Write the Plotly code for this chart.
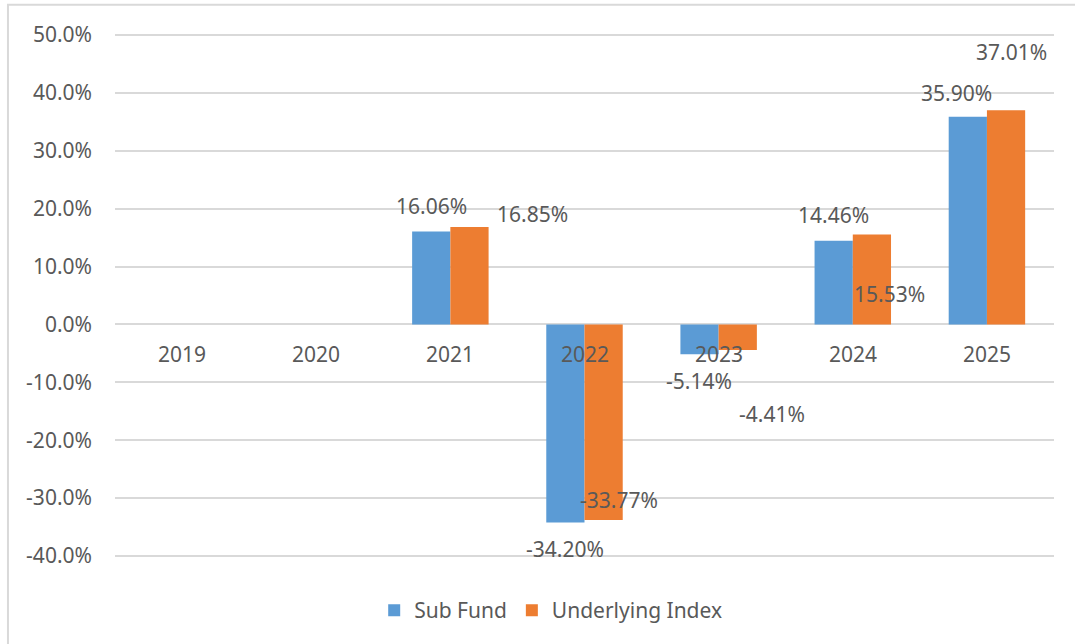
import plotly.graph_objects as go

years = ["2019", "2020", "2021", "2022", "2023", "2024", "2025"]
sub_fund = [None, None, 0.1606, -0.3420, -0.0514, 0.1446, 0.3590]
underlying_index = [None, None, 0.1685, -0.3377, -0.0441, 0.1553, 0.3701]
y_ticks = [-0.4, -0.3, -0.2, -0.1, 0.0, 0.1, 0.2, 0.3, 0.4, 0.5]
y_tick_text = ["-40.0%", "-30.0%", "-20.0%", "-10.0%", "0.0%",
               "10.0%", "20.0%", "30.0%", "40.0%", "50.0%"]

BLUE = "#5B9BD5"
ORANGE = "#ED7D31"
TXT = "#595959"
FONT = "Noto Sans"
FS = 21

# label pixel offsets (dx, dy down-positive) from the bar end, per series
sub_off = [None, None, (0, -25), (0, 27), (0, 27), (0, -26), (-11, -24)]
idx_off = [None, None, (63, -13), (15, -20), (34, 64), (18, 59), (5, -58)]

fig = go.Figure()
fig.add_trace(go.Bar(name="Sub Fund", x=years, y=sub_fund, marker_color=BLUE,
                     marker_line_width=0))
fig.add_trace(go.Bar(name="Underlying Index", x=years, y=underlying_index,
                     marker_color=ORANGE, marker_line_width=0))

bar_half = 19.2
annotations = []
for series, offs, side in ((sub_fund, sub_off, -1), (underlying_index, idx_off, 1)):
    for i, (v, off) in enumerate(zip(series, offs)):
        if v is None:
            continue
        dx, dy = off
        annotations.append(dict(x=i, y=v, xref="x", yref="y", text=f"{v*100:.2f}%",
                                showarrow=False, xanchor="center", yanchor="middle",
                                xshift=side * bar_half + dx, yshift=-dy,
                                font=dict(family=FONT, size=FS, color=TXT)))
for i, yr in enumerate(years):
    annotations.append(dict(x=i, y=0, xref="x", yref="y", text=yr, showarrow=False,
                            xanchor="center", yanchor="middle", yshift=-30,
                            font=dict(family=FONT, size=FS, color=TXT)))

fig.update_layout(
    width=1075, height=644,
    margin=dict(l=115, r=21, t=33, b=86),
    paper_bgcolor="white", plot_bgcolor="white",
    barmode="group", bargap=0.43, bargroupgap=0,
    font=dict(family=FONT, size=FS, color=TXT),
    showlegend=True,
    legend=dict(orientation="h", x=0.464, xanchor="center", y=-0.1, yanchor="middle",
                font=dict(family=FONT, size=FS, color=TXT), itemwidth=30,
                traceorder="normal"),
    annotations=annotations,
    shapes=[dict(type="rect", xref="paper", yref="paper", x0=-0.114, x1=1.2,
                 y0=-0.4, y1=1.054, line=dict(color="#D9D9D9", width=2),
                 fillcolor="rgba(0,0,0,0)", layer="below")],
)
fig.update_xaxes(type="category", categoryorder="array", categoryarray=years,
                 range=[-0.5, len(years) - 0.5], autorange=False,
                 showticklabels=False, showgrid=False, zeroline=False, showline=False,
                 ticks="")
fig.update_yaxes(range=[-0.4035, 0.5035], autorange=False, tickvals=y_ticks,
                 ticktext=y_tick_text,
                 showgrid=True, gridcolor="#D9D9D9", gridwidth=1.5,
                 zeroline=True, zerolinecolor="#D9D9D9", zerolinewidth=1.5,
                 showline=False, ticks="", ticklabelstandoff=22,
                 tickfont=dict(family=FONT, size=FS, color=TXT))

fig.write_html("out.html", config={"displayModeBar": False},
               post_script="document.body.style.margin='0px';")
